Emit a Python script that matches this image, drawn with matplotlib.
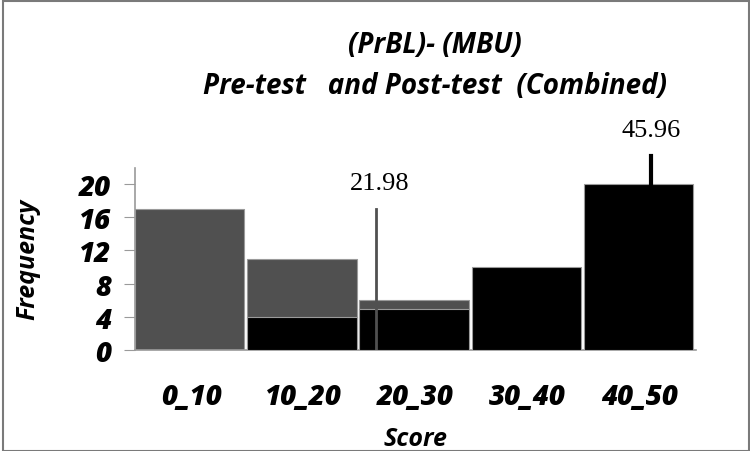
import matplotlib
matplotlib.use("Agg")
import matplotlib.pyplot as plt
from matplotlib.patches import Rectangle

bins = ["0_10", "10_20", "20_30", "30_40", "40_50"]
bin_left = [0, 10, 20, 30, 40]
pre_test = [17, 11, 6, 0, 0]
post_test = [0, 4, 5, 10, 20]
pre_mean = 21.98
post_mean = 45.96
pre_mean_top = 17
post_mean_top = 23.4

fig = plt.figure(figsize=(7.5, 4.52), dpi=100)
ax = fig.add_axes([0.18, 0.2235, 0.748, 0.4035])

FAM = ["Open Sans", "DejaVu Sans"]
bold_it = dict(family=FAM, weight="bold", style="italic")

ax.bar(bin_left, pre_test, width=9.75, align="edge", color="#505050",
       edgecolor="#9a9a9a", linewidth=0.8, zorder=2)
ax.bar(bin_left, post_test, width=9.75, align="edge", color="#000000",
       edgecolor="#9a9a9a", linewidth=0.8, zorder=3)

ax.plot([pre_mean - 0.5, pre_mean - 0.5], [0, pre_mean_top], color="#505050", lw=2, zorder=4)
ax.plot([post_mean, post_mean], [post_test[-1], post_mean_top], color="black", lw=3,
        zorder=4, clip_on=False)
ax.text(pre_mean - 0.2, 20.1, f"{pre_mean:.2f}", ha="center", va="center",
        family="Liberation Serif", fontsize=19)
ax.text(post_mean, 26.5, f"{post_mean:.2f}", ha="center", va="center",
        family="Liberation Serif", fontsize=19, clip_on=False)

ax.set_xlim(0, 50)
ax.set_ylim(0, 22)
ax.set_yticks([0, 4, 8, 12, 16, 20])
ax.set_xticks([b + 5 for b in bin_left])
ax.set_xticklabels(bins)
for lab in ax.get_xticklabels() + ax.get_yticklabels():
    lab.set_fontfamily(FAM)
    lab.set_fontweight("heavy")
    lab.set_fontstyle("italic")
    lab.set_fontsize(20)
ax.tick_params(axis="y", length=8, color="#9a9a9a", pad=9)
ax.tick_params(axis="x", length=0, pad=23)
for s in ["top", "right"]:
    ax.spines[s].set_visible(False)
ax.spines["left"].set_color("#9a9a9a")
ax.spines["bottom"].set_color("#9a9a9a")
ax.spines["left"].set_linewidth(1.2)
ax.spines["bottom"].set_linewidth(1.2)

ax.set_xlabel("Score", fontsize=18, labelpad=11, **bold_it)
ax.set_ylabel("Frequency", fontsize=18, labelpad=28, **bold_it)

fig.text(0.58, 0.899, "(PrBL)- (MBU)", ha="center", va="center", fontsize=20, **bold_it)
fig.text(0.58, 0.809, "Pre-test   and Post-test  (Combined)", ha="center", va="center",
         fontsize=20, **bold_it)

fig.patches.append(Rectangle((0.004, 0.0), 0.994, 0.996, transform=fig.transFigure,
                             fill=False, edgecolor="#7a7a7a", linewidth=1.5))

fig.savefig("out.png", dpi=100)
